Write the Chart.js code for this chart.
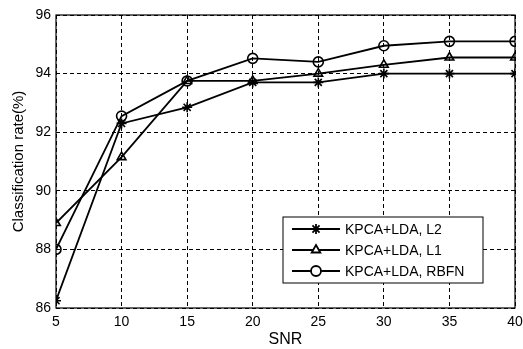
<!DOCTYPE html>
<html>
<head>
<meta charset="utf-8">
<script src="https://cdn.jsdelivr.net/npm/chart.js@4"></script>
<style>
  html, body { margin: 0; padding: 0; background: #fff; }
  #wrap { width: 523px; height: 349px; }
</style>
</head>
<body>
<div id="wrap"><canvas id="snrChart" width="523" height="349"></canvas></div>
<script>
// SNR vs classification rate
const snrLevels = [5, 10, 15, 20, 25, 30, 35, 40];
const rateL2 = [86.25, 92.3, 92.85, 93.7, 93.7, 94.0, 94.0, 94.0];
const rateL1 = [88.9, 91.15, 93.75, 93.75, 94.0, 94.3, 94.55, 94.55];
const rateRBFN = [88.0, 92.55, 93.75, 94.52, 94.4, 94.95, 95.1, 95.1];
const seriesNames = ['KPCA+LDA, L2', 'KPCA+LDA, L1', 'KPCA+LDA, RBFN'];
const markerStyles = ['star', 'triangle', 'circle'];

function toPoints(vals) {
    return snrLevels.map((x, i) => ({ x: x, y: vals[i] }));
}

const FONT = 'Liberation Sans, Arial, sans-serif';

// solid axes frame + boxed legend inside the plot, like the matlab figure
const frameAndLegend = {
    id: 'frameAndLegend',
    afterDraw(chart) {
        const ctx = chart.ctx;
        const a = chart.chartArea;
        ctx.save();
        ctx.strokeStyle = '#000';
        ctx.lineWidth = 1.2;
        ctx.setLineDash([]);
        ctx.strokeRect(a.left, a.top, a.right - a.left, a.bottom - a.top);

        const boxW = 200, boxH = 66;
        const bx = a.right - 32 - boxW;
        const by = a.bottom - 25 - boxH;
        ctx.fillStyle = '#fff';
        ctx.fillRect(bx, by, boxW, boxH);
        ctx.lineWidth = 1;
        ctx.strokeRect(bx, by, boxW, boxH);

        ctx.font = '14px ' + FONT;
        ctx.textBaseline = 'middle';
        chart.data.datasets.forEach((ds, i) => {
            const y = by + 12 + i * 21;
            ctx.strokeStyle = '#000';
            ctx.lineWidth = 1.8;
            ctx.beginPath();
            ctx.moveTo(bx + 9, y);
            ctx.lineTo(bx + 57, y);
            ctx.stroke();
            ctx.fillStyle = '#fff';
            Chart.helpers.drawPoint(ctx, {
                pointStyle: ds.pointStyle,
                radius: 5,
                rotation: 0,
                borderWidth: 1.5
            }, bx + 33, y);
            ctx.fillStyle = '#000';
            ctx.fillText(ds.label, bx + 62, y + 1);
        });
        ctx.restore();
    }
};

function makeDataset(i, vals) {
    return {
        label: seriesNames[i],
        data: toPoints(vals),
        borderColor: '#000',
        backgroundColor: 'rgba(0,0,0,0)',
        borderWidth: 1.8,
        pointStyle: markerStyles[i],
        pointRadius: 5,
        pointBorderWidth: 1.6,
        pointBorderColor: '#000',
        pointBackgroundColor: 'rgba(0,0,0,0)',
        tension: 0,
        fill: false
    };
}

const ctx = document.getElementById('snrChart').getContext('2d');
new Chart(ctx, {
    type: 'line',
    data: {
        datasets: [
            makeDataset(0, rateL2),
            makeDataset(1, rateL1),
            makeDataset(2, rateRBFN)
        ]
    },
    options: {
        responsive: false,
        animation: false,
        layout: { padding: { top: 15, right: 8, left: 10, bottom: 0 } },
        plugins: {
            legend: { display: false },
            tooltip: { enabled: false }
        },
        scales: {
            x: {
                type: 'linear',
                min: 5,
                max: 40,
                ticks: { stepSize: 5, color: '#000', font: { family: FONT, size: 14 }, padding: 6 },
                grid: { color: '#000', lineWidth: 1, drawTicks: false },
                border: { display: false, dash: [4, 3] },
                title: { display: true, text: 'SNR', color: '#000', font: { family: FONT, size: 16 }, padding: { top: 2, bottom: 0 } },
                afterFit(scale) {
                    scale.height = 41;
                    scale.paddingLeft = 0;
                    scale.paddingRight = 0;
                }
            },
            y: {
                min: 86,
                max: 96,
                ticks: { stepSize: 2, color: '#000', font: { family: FONT, size: 14 }, padding: 5 },
                grid: { color: '#000', lineWidth: 1, drawTicks: false },
                border: { display: false, dash: [4, 3] },
                title: { display: true, text: 'Classification rate(%)', color: '#000', font: { family: FONT, size: 15 }, padding: { top: 0, bottom: 2 } },
                afterFit(scale) { scale.width = 46; }
            }
        }
    },
    plugins: [frameAndLegend]
});
</script>
</body>
</html>
